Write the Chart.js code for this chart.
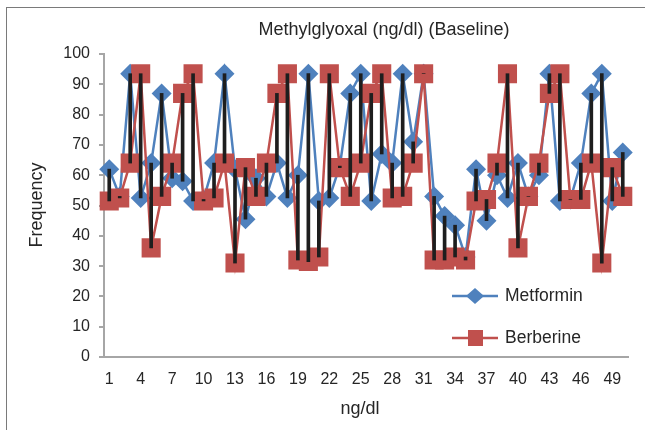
<!DOCTYPE html>
<html>
<head>
<meta charset="utf-8">
<script src="https://cdn.jsdelivr.net/npm/chart.js@4/dist/chart.umd.min.js"></script>
<style>
  html, body { margin: 0; padding: 0; background: #fff; }
  #wrap { position: relative; width: 645px; height: 430px; overflow: hidden; }
  #frame { position: absolute; left: 6px; top: 7px; width: 700px; height: 500px;
           border-left: 1.5px solid #7a7a7a; border-top: 1.5px solid #7a7a7a; }
  canvas { position: absolute; left: 0; top: 0; }
</style>
</head>
<body>
<div id="wrap">
  <div id="frame"></div>
  <canvas id="chart" width="645" height="430"></canvas>
</div>
<script>
// categories 1..50 (ng/dl)
const categories = ["1","2","3","4","5","6","7","8","9","10","11","12","13","14","15","16","17","18","19","20",
  "21","22","23","24","25","26","27","28","29","30","31","32","33","34","35","36","37","38","39","40",
  "41","42","43","44","45","46","47","48","49","50"];
const tickLabels = ["1","4","7","10","13","16","19","22","25","28","31","34","37","40","43","46","49"];

const metformin = [62, 53, 93.5, 52.5, 64, 87, 59, 58, 51.5, 52, 64, 93.5, 62, 45.5, 59, 53, 64, 52.5, 60, 93.5,
  51.5, 52.5, 63, 87, 93.5, 51.5, 67, 64, 93.5, 71, 93.5, 53, 46.5, 43.5, 33, 62, 45, 60, 52.5, 64,
  53, 60, 93.5, 51.5, 52, 64, 87, 93.5, 51.5, 67.5];
const berberine = [51.5, 52.5, 64, 93.5, 36, 53, 64, 87, 93.5, 51.5, 52.5, 64, 31, 62.5, 53, 64, 87, 93.5, 32, 31.5,
  33, 93.5, 62.5, 53, 64, 87, 93.5, 52.5, 53, 64, 93.5, 32, 32, 33, 32, 51.5, 52, 64, 93.5, 36,
  53, 64, 87, 93.5, 52, 52, 64, 31, 62.5, 53];

const blue = "#4f81bd";
const red = "#c0504d";
const font = "Liberation Sans, Arial, sans-serif";

// high-low lines between the two series
const hiLo = metformin.map((m, i) => [Math.min(m, berberine[i]), Math.max(m, berberine[i])]);

const textPlugin = {
  id: "texts",
  afterDraw(chart) {
    const ctx = chart.ctx;
    ctx.save();
    ctx.fillStyle = "#262626";
    ctx.textAlign = "center";
    ctx.textBaseline = "middle";
    ctx.font = "18px " + font;
    ctx.fillText("Methylglyoxal (ng/dl) (Baseline)", 384, 30);
    ctx.fillText("ng/dl", 360, 409);
    ctx.save();
    ctx.translate(37, 205);
    ctx.rotate(-Math.PI / 2);
    ctx.fillText("Frequency", 0, 0);
    ctx.restore();

    // legend inside the plot area
    const items = [
      { text: "Metformin", color: blue, y: 296, shape: "diamond" },
      { text: "Berberine", color: red, y: 338, shape: "square" }
    ];
    ctx.font = "17.5px " + font;
    items.forEach(it => {
      ctx.strokeStyle = it.color;
      ctx.lineWidth = 2.5;
      ctx.beginPath();
      ctx.moveTo(452, it.y);
      ctx.lineTo(498, it.y);
      ctx.stroke();
      ctx.fillStyle = it.color;
      ctx.beginPath();
      if (it.shape === "diamond") {
        ctx.moveTo(475, it.y - 8);
        ctx.lineTo(484, it.y);
        ctx.lineTo(475, it.y + 8);
        ctx.lineTo(466, it.y);
      } else {
        ctx.rect(468, it.y - 8, 15, 16);
      }
      ctx.closePath();
      ctx.fill();
      ctx.fillStyle = "#262626";
      ctx.textAlign = "left";
      ctx.fillText(it.text, 505, it.y);
    });
    ctx.restore();
  }
};

new Chart(document.getElementById("chart"), {
  data: {
    labels: categories,
    datasets: [
      {
        type: "bar",
        label: "hilo",
        data: hiLo,
        backgroundColor: "#1e1e1e",
        barThickness: 3,
        order: 0
      },
      {
        type: "line",
        label: "Berberine",
        data: berberine,
        borderColor: red,
        backgroundColor: red,
        borderWidth: 2.5,
        pointStyle: "rect",
        pointRadius: 13.5,
        pointBorderWidth: 0,
        pointBackgroundColor: red,
        tension: 0,
        order: 1
      },
      {
        type: "line",
        label: "Metformin",
        data: metformin,
        borderColor: blue,
        backgroundColor: blue,
        borderWidth: 2.5,
        pointStyle: "rectRot",
        pointRadius: 10,
        pointBorderWidth: 0,
        pointBackgroundColor: blue,
        tension: 0,
        order: 2
      }
    ]
  },
  options: {
    responsive: false,
    animation: false,
    devicePixelRatio: 1,
    layout: { padding: { top: 54, right: 17, left: 0, bottom: 0 } },
    plugins: { legend: { display: false }, tooltip: { enabled: false } },
    scales: {
      x: {
        offset: true,
        grid: { display: true, drawOnChartArea: false, drawTicks: false },
        border: { color: "#a6a6a6", width: 2 },
        ticks: {
          autoSkip: false,
          maxRotation: 0,
          padding: 13,
          color: "#262626",
          font: { family: font, size: 16 },
          callback: function (v, i) {
            const lab = categories[i];
            return tickLabels.includes(lab) ? lab : "";
          }
        },
        afterFit: s => { s.height = 73; }
      },
      y: {
        min: 0,
        max: 100,
        ticks: { stepSize: 10, padding: 9, color: "#262626", font: { family: font, size: 16 } },
        grid: { drawOnChartArea: false, tickLength: 5, color: "#a6a6a6", lineWidth: 2 },
        border: { color: "#a6a6a6", width: 2 },
        afterFit: s => { s.width = 104; }
      }
    }
  },
  plugins: [textPlugin]
});
</script>
</body>
</html>
